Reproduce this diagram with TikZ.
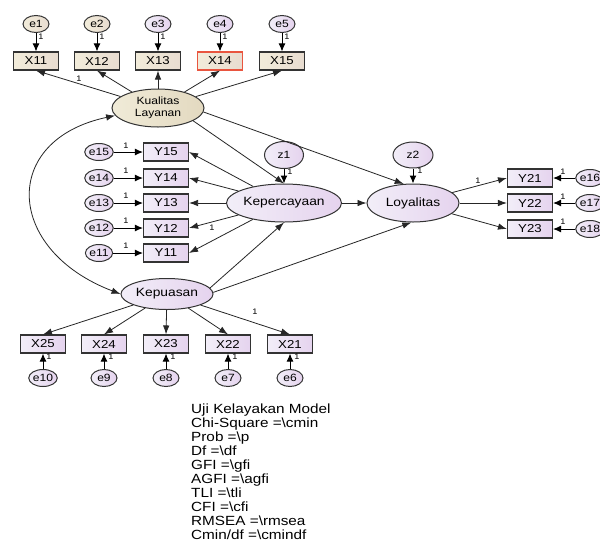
\documentclass[tikz,border=0pt]{standalone}
\usepackage{fontspec}
\setmainfont{Liberation Sans}[FakeStretch=1.15]
\usetikzlibrary{shapes.geometric,arrows.meta}
\definecolor{lavL}{HTML}{F2EEF8}
\definecolor{lavR}{HTML}{E5D3EE}
\definecolor{begL}{HTML}{F2ECDA}
\definecolor{begR}{HTML}{E8DCD0}
\definecolor{kulL}{HTML}{F0EBD8}
\definecolor{kulR}{HTML}{E3D9C0}
\definecolor{redb}{HTML}{E9553F}
\begin{document}
\begin{tikzpicture}[x=1pt,y=-1pt,
  fs/.style={font=\fontsize{#1}{#1}\selectfont},
  obs/.style={rectangle, draw=black!80, line width=1.1pt, minimum width=45pt, minimum height=18pt, inner sep=0pt, left color=lavL, right color=lavR, fs=11.5},
  obsb/.style={obs, left color=begL, right color=begR},
  lat/.style={ellipse, draw=black!80, line width=1pt, minimum width=92pt, minimum height=38pt, inner sep=0pt, left color=lavL, right color=lavR, fs=12, align=center},
  err/.style={ellipse, draw=black!80, line width=1pt, minimum width=26pt, minimum height=17pt, inner sep=0pt, left color=lavL, right color=lavR, fs=10.5},
  errb/.style={err, left color=begL, right color=begR},
  arr/.style={-{Latex[length=9pt,width=6.5pt]}, line width=0.8pt, black!85},
  earr/.style={-{Latex[length=8pt,width=7pt]}, line width=1pt, black},
  one/.style={fs=8, inner sep=0pt},
]
\useasboundingbox (0,0) rectangle (600,547);
\fill[white] (0,0) rectangle (600,547);

% top indicators
\node[obsb] (x11) at (36,61) {X11};
\node[obsb] (x12) at (97,61) {X12};
\node[obsb] (x13) at (158,61) {X13};
\node[obsb, draw=redb] (x14) at (220,61) {X14};
\node[obsb] (x15) at (282,61) {X15};
\node[errb] (e1) at (36,24) {e1};
\node[errb] (e2) at (97,24) {e2};
\node[err] (e3) at (158,24) {e3};
\node[err] (e4) at (220,24) {e4};
\node[err] (e5) at (282,24) {e5};

\node[lat, left color=kulL, right color=kulR, font=\fontsize{10.5}{12}\selectfont] (kl) at (158,108) {Kualitas\\Layanan};

% Y1 indicators
\node[obs] (y15) at (166,152) {Y15};
\node[obs] (y14) at (166,178) {Y14};
\node[obs] (y13) at (166,203) {Y13};
\node[obs] (y12) at (166,228) {Y12};
\node[obs] (y11) at (166,253) {Y11};
\node[err] (e15) at (99,152) {e15};
\node[err] (e14) at (99,178) {e14};
\node[err] (e13) at (99,203) {e13};
\node[err] (e12) at (99,228) {e12};
\node[err] (e11) at (99,253) {e11};

\node[err, minimum width=39pt, minimum height=27pt, fs=10.5] (z1) at (284,155) {z1};
\node[lat] (kc) at (284,203) {Kepercayaan};
\node[lat] (ly) at (413,203) {Loyalitas};
\node[err, minimum width=40pt, minimum height=26pt, fs=10.5] (z2) at (413,155) {z2};

\node[obs] (y21) at (530,178) {Y21};
\node[obs] (y22) at (530,203) {Y22};
\node[obs] (y23) at (530,229) {Y23};
\node[err] (e16) at (590,178) {e16};
\node[err] (e17) at (590,203) {e17};
\node[err] (e18) at (590,229) {e18};

\node[lat, minimum height=31pt] (kp) at (167,294) {Kepuasan};

\node[obs] (x25) at (43,344) {X25};
\node[obs] (x24) at (104,344) {X24};
\node[obs] (x23) at (166,344) {X23};
\node[obs] (x22) at (228,344) {X22};
\node[obs] (x21) at (290,344) {X21};
\node[err] (e10) at (43,378) {e10};
\node[err] (e9) at (104,378) {e9};
\node[err] (e8) at (166,378) {e8};
\node[err] (e7) at (228,378) {e7};
\node[err] (e6) at (290,378) {e6};

% connectors: Kualitas Layanan
\foreach \i in {1,...,5} {\draw[earr] (e\i) -- (x1\i);}
\foreach \i in {1,...,5} {\draw[arr] (kl) -- (x1\i.south);}
\draw[arr] (kl.-20) -- (kc.north);
\draw[arr] (kl.-5) -- (ly.116);

% Kepercayaan
\foreach \i in {1,...,5} {\draw[arr] (kc) -- (y1\i.east);}
\foreach \i in {1,...,5} {\draw[earr] (e1\i) -- (y1\i);}
\draw[earr] (z1) -- (kc);
\draw[arr] (kc) -- (ly);

% Loyalitas
\draw[earr] (z2) -- (ly);
\draw[arr] (ly) -- (y21.west);
\draw[arr] (ly) -- (y22);
\draw[arr] (ly) -- (y23.west);
\draw[earr] (e16) -- (y21);
\draw[earr] (e17) -- (y22);
\draw[earr] (e18) -- (y23);

% Kepuasan
\draw[arr] (kp.8) -- (kc.south);
\draw[arr] (kp.2) -- (ly.265);
\foreach \i in {1,...,5} {\draw[arr] (kp) -- (x2\i.north);}
\draw[earr] (e10) -- (x25);
\draw[earr] (e9) -- (x24);
\draw[earr] (e8) -- (x23);
\draw[earr] (e7) -- (x22);
\draw[earr] (e6) -- (x21);

% covariance
\draw[line width=0.8pt, black!85, {Latex[length=9pt,width=6.5pt]}-{Latex[length=9pt,width=6.5pt]}]
  (kl.190) .. controls (0,140) and (5,250) .. (kp.west);

% labels 1
\node[one] (o1) at (41,37) {1};
\node[one] (o2) at (102,37) {1};
\node[one] (o3) at (163,37) {1};
\node[one] (o4) at (225,37) {1};
\node[one] (o5) at (287,37) {1};
\node[one] (o6) at (79,79) {1};
\node[one] (o7) at (126,146) {1};
\node[one] (o8) at (126,171) {1};
\node[one] (o9) at (126,196) {1};
\node[one] (o10) at (126,221) {1};
\node[one] (o11) at (126,246) {1};
\node[one] (o12) at (212,228) {1};
\node[one] (o13) at (290,172) {1};
\node[one] (o14) at (420,171) {1};
\node[one] (o15) at (478,181) {1};
\node[one] (o16) at (563,172) {1};
\node[one] (o17) at (563,197) {1};
\node[one] (o18) at (563,222) {1};
\node[one] (o19) at (255,312) {1};
\node[one] (o20) at (49,357) {1};
\node[one] (o21) at (111,357) {1};
\node[one] (o22) at (173,357) {1};
\node[one] (o23) at (235,357) {1};
\node[one] (o24) at (297,357) {1};

% fit text
\node[anchor=north west, align=left, inner sep=0pt, font=\fontsize{13.3}{14}\selectfont] (fit) at (191,404)
{Uji Kelayakan Model\\
Chi-Square =\textbackslash cmin\\
Prob =\textbackslash p\\
Df =\textbackslash df\\
GFI =\textbackslash gfi\\
AGFI =\textbackslash agfi\\
TLI =\textbackslash tli\\
CFI =\textbackslash cfi\\
RMSEA =\textbackslash rmsea\\
Cmin/df =\textbackslash cmindf};
\end{tikzpicture}
\end{document}
